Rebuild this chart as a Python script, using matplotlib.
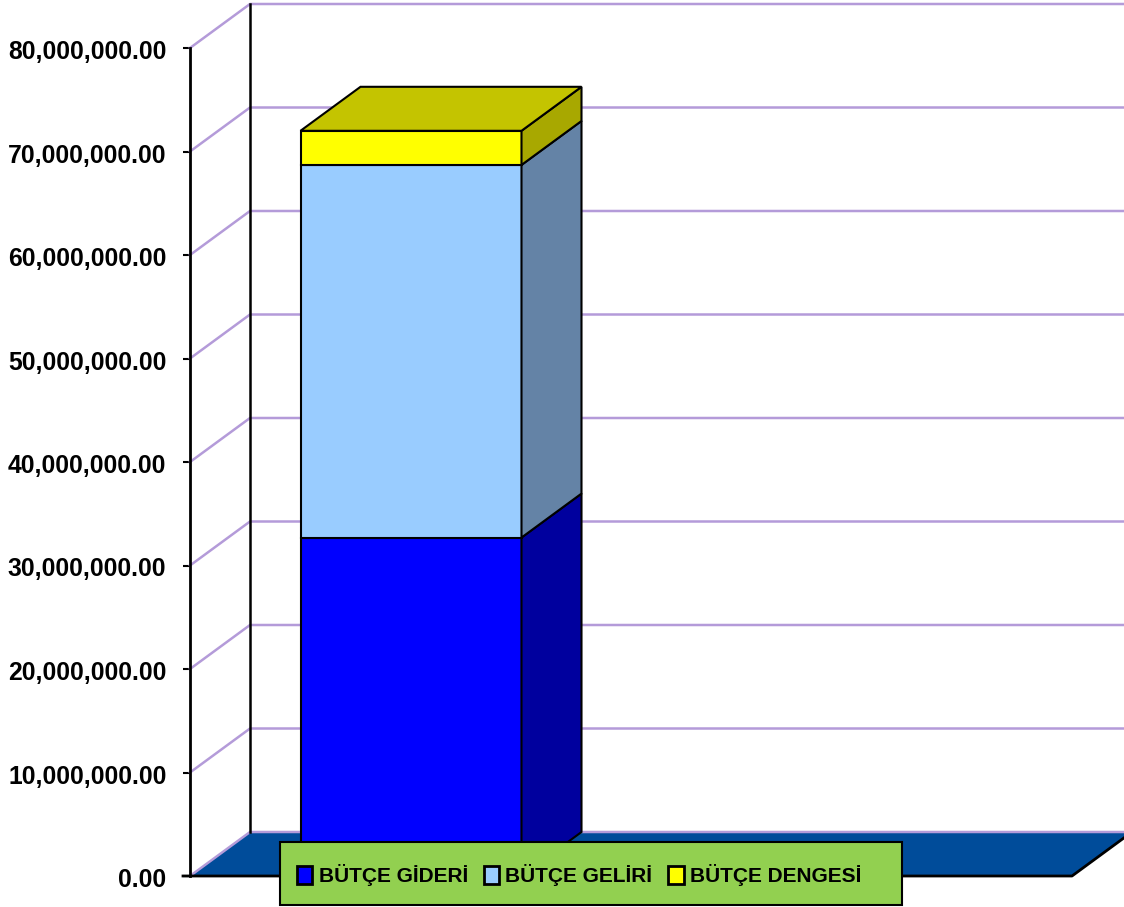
import matplotlib.pyplot as plt
import matplotlib.transforms as mtransforms
from matplotlib.patches import Polygon, Rectangle, Patch
from matplotlib.ticker import FuncFormatter

plt.rcParams['font.family'] = ['Liberation Sans', 'DejaVu Sans']

# stacked values for the single bar (TL)
series = ["BÜTÇE GİDERİ", "BÜTÇE GELİRİ", "BÜTÇE DENGESİ"]
values = [32700000, 36000000, 3300000]
front_colors = ["#0000FF", "#99CCFF", "#FFFF00"]
side_colors = ["#00009E", "#6483A6", "#A8A800"]
top_color = "#C4C400"
yticks = [0, 10000000, 20000000, 30000000, 40000000, 50000000, 60000000, 70000000, 80000000]

W, H = 1124, 907
fig = plt.figure(figsize=(W / 100, H / 100), dpi=100)
ax = fig.add_axes([190 / W, 31 / H, 934 / W, 828 / H])

bar_w = 0.8
px_per_unit = 221 / bar_w
xmin = -0.8
xmax = xmin + 934 / px_per_unit
ymax = 80000000
dx = 60 / px_per_unit          # depth offset along x
dy = 44 / 828 * ymax           # depth offset along y
ax.set_xlim(xmin, xmax)
ax.set_ylim(0, ymax)

grid_c = "#B49BD9"

# floor
floor_right = xmin + 882 / px_per_unit
floor = Polygon([(xmin, 0), (floor_right, 0), (floor_right + dx, dy),
                 (xmin + dx, dy)], closed=True, facecolor="#004C9A",
                edgecolor="none", zorder=1, clip_on=False)
ax.add_patch(floor)
ax.plot([xmin, xmin + dx, floor_right + dx], [0, dy, dy], color=grid_c,
        lw=1.8, zorder=2, clip_on=False)
ax.plot([xmin - 7 / px_per_unit, floor_right, floor_right + dx], [0, 0, dy],
        color="black", lw=2, zorder=2, clip_on=False)

# gridlines running up the side wall and across the back wall
for v in yticks[1:]:
    ax.plot([xmin, xmin + dx, xmax + 0.1], [v, v + dy, v + dy], color=grid_c,
            lw=1.8, zorder=2, clip_on=False)
ax.plot([xmin + dx, xmin + dx], [dy, ymax + dy], color="black", lw=1.8,
        zorder=3, clip_on=False)

# the 3D stacked bar
x0, x1 = -bar_w / 2, bar_w / 2
bottom = 0
for val, fc, sc in zip(values, front_colors, side_colors):
    top = bottom + val
    ax.add_patch(Rectangle((x0, bottom), bar_w, val, facecolor=fc,
                           edgecolor="black", lw=1.5, zorder=5))
    ax.add_patch(Polygon([(x1, bottom), (x1 + dx, bottom + dy), (x1 + dx, top + dy),
                          (x1, top)], closed=True, facecolor=sc, edgecolor="black",
                         lw=1.5, zorder=5))
    bottom = top
ax.add_patch(Polygon([(x0, bottom), (x0 + dx, bottom + dy), (x1 + dx, bottom + dy),
                      (x1, bottom)], closed=True, facecolor=top_color,
                     edgecolor="black", lw=1.5, zorder=5))

# axis
for s in ["top", "right", "bottom"]:
    ax.spines[s].set_visible(False)
ax.spines["left"].set_linewidth(2)
ax.spines["left"].set_zorder(4)
ax.set_xticks([])
ax.set_yticks(yticks)
ax.yaxis.set_major_formatter(FuncFormatter(lambda v, p: f"{v:,.2f}"))
ax.tick_params(axis="y", direction="out", length=5, width=1.5, pad=12,
               labelsize=17.8)
shift = mtransforms.ScaledTranslation(0, -4 / 100, fig.dpi_scale_trans)
for lbl in ax.get_yticklabels():
    lbl.set_fontweight("bold")
    lbl.set_verticalalignment("center")
    lbl.set_transform(lbl.get_transform() + shift)
ax.patch.set_alpha(0)

# legend box
fig.patches.append(Rectangle((280 / W, 2 / H), 622 / W, 63 / H,
                             transform=fig.transFigure, facecolor="#92D050",
                             edgecolor="black", lw=1.5, zorder=10))
handles = [Patch(facecolor=c, edgecolor="black", lw=2) for c in front_colors]
leg = fig.legend(handles, series, loc="center left",
                 bbox_to_anchor=(278 / W, 32 / H), ncol=3, frameon=False,
                 prop={"weight": "bold", "size": 15}, handlelength=0.75,
                 handleheight=0.95, handletextpad=0.3, columnspacing=0.75)
leg.set_zorder(11)

fig.savefig("out.png", dpi=100)
